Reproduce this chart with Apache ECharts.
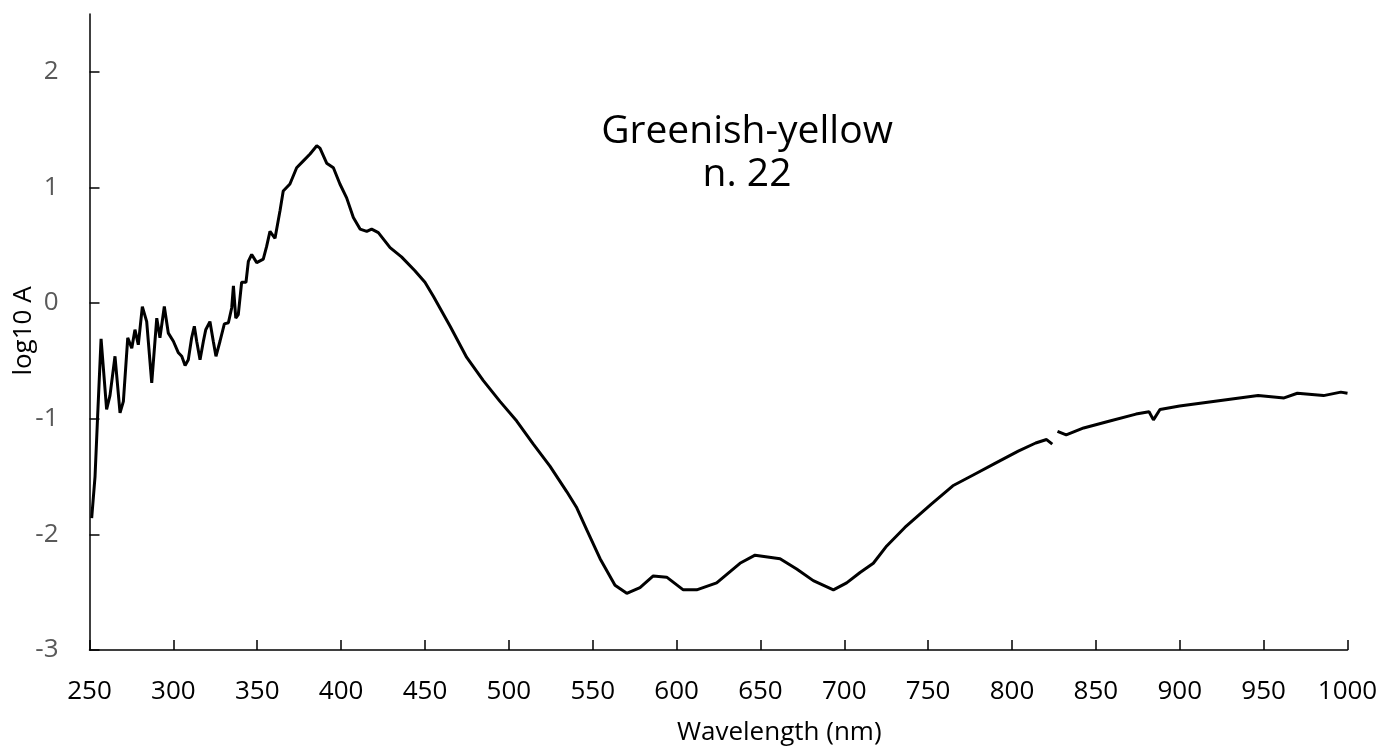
<!DOCTYPE html>
<html>
<head>
<meta charset="utf-8">
<script src="https://cdn.jsdelivr.net/npm/echarts@6/dist/echarts.min.js"></script>
<style>
html,body{margin:0;padding:0;background:#fff;}
#chart{width:1386px;height:754px;}
</style>
</head>
<body>
<div id="chart"></div>
<script>
var wavelengths = [251.3,253.3,254.9,256.9,260.2,262.2,265.2,268.2,270.2,272.8,275.2,277.1,279.1,281.5,284.1,287.1,290.1,292,294.6,297,300,303,305,307,308.9,310.9,312.5,313.9,315.9,317.9,319.3,321.8,323.8,325.4,327.8,330.4,332.8,334.8,335.8,337.2,338.7,340.7,343.3,344.7,346.7,349.7,353.6,355.6,357.6,360.6,363.6,365.5,369.5,373.5,377.5,381.5,385.5,387.4,391.4,395.4,399.3,403.3,407.3,411.3,415.3,418.2,422.2,429.2,436,444,450,455,465,474.9,484.8,494.7,504.7,514.6,524.5,534.5,540.5,546.4,554.4,563.3,570.3,578.2,586.1,594.1,604,612,623.9,637.8,646.8,661.7,671.6,681.5,693.5,701.4,709.4,717.3,725.3,736.1,751.7,764.7,777.7,790.7,803.7,814.1,820.6,824,825.5,827.1,832.3,842.7,858.3,873.9,881.7,884.3,888.2,899.9,915.5,931.1,946.7,962.2,970.1,985.7,996,1000];
var log10A = [-1.86,-1.50,-0.96,-0.31,-0.92,-0.80,-0.46,-0.95,-0.85,-0.30,-0.39,-0.23,-0.36,-0.03,-0.16,-0.69,-0.13,-0.30,-0.03,-0.26,-0.33,-0.43,-0.46,-0.54,-0.49,-0.30,-0.20,-0.33,-0.49,-0.33,-0.23,-0.16,-0.33,-0.46,-0.33,-0.18,-0.17,-0.04,0.15,-0.13,-0.10,0.18,0.18,0.36,0.42,0.35,0.38,0.49,0.62,0.56,0.80,0.97,1.03,1.17,1.23,1.29,1.36,1.34,1.21,1.17,1.03,0.91,0.74,0.64,0.62,0.64,0.61,0.48,0.40,0.28,0.18,0.06,-0.20,-0.47,-0.67,-0.85,-1.02,-1.22,-1.41,-1.63,-1.77,-1.96,-2.21,-2.44,-2.51,-2.46,-2.36,-2.37,-2.48,-2.48,-2.42,-2.25,-2.18,-2.21,-2.30,-2.40,-2.48,-2.42,-2.33,-2.25,-2.10,-1.94,-1.74,-1.58,-1.48,-1.38,-1.28,-1.21,-1.18,-1.22,null,-1.11,-1.14,-1.08,-1.02,-0.96,-0.94,-1.01,-0.92,-0.89,-0.86,-0.83,-0.80,-0.82,-0.78,-0.80,-0.77,-0.78];
var yTicks = [-3,-2,-1,0,1,2];
var titleLines = ['Greenish-yellow','n. 22'];
var xName = 'Wavelength (nm)';
var yName = 'log10 A';

var seriesData = wavelengths.map(function(w,i){ return [w, log10A[i]]; });

var chart = echarts.init(document.getElementById('chart'), null, {renderer:'canvas'});
var font = "'Open Sans', sans-serif";
chart.setOption({
  animation:false,
  backgroundColor:'#ffffff',
  grid:{left:89.5, right:38.5, top:14, bottom:104, containLabel:false, outerBoundsMode:'none'},
  xAxis:{
    type:'value', min:250, max:1000, interval:50,
    axisLine:{show:true, onZero:false, lineStyle:{color:'#000', width:1.5}},
    axisTick:{show:true, inside:true, length:10, lineStyle:{color:'#000', width:1.5}},
    axisLabel:{color:'#000', fontSize:26, fontFamily:font, margin:29, formatter:function(v){return String(v);}},
    splitLine:{show:false}
  },
  yAxis:{
    type:'value', min:-3, max:2.5, interval:1,
    axisLine:{show:true, onZero:false, lineStyle:{color:'#000', width:1.5}},
    axisTick:{show:true, inside:true, length:10, customValues:yTicks, lineStyle:{color:'#000', width:1.5}},
    axisLabel:{color:'#595959', fontSize:26, fontFamily:font, margin:31, customValues:yTicks, formatter:function(v){return String(v);}},
    splitLine:{show:false}
  },
  graphic:[
    {type:'text', left:677, top:720, style:{text:xName, fill:'#000', font:"26px 'Open Sans', sans-serif"}},
    {type:'text', x:24, y:331, rotation:Math.PI/2, style:{text:yName, fill:'#000', font:"26px 'Open Sans', sans-serif", textAlign:'center', textVerticalAlign:'middle'}},
    {type:'text', x:747, y:110, style:{text:titleLines.join('\n'), fill:'#000', font:"39px 'Open Sans', sans-serif", textAlign:'center', lineHeight:43}}
  ],
  series:[{
    type:'line', data:seriesData, showSymbol:false, symbol:'none', connectNulls:false,
    lineStyle:{color:'#000', width:3}, itemStyle:{color:'#000'}
  }]
});
</script>
</body>
</html>
